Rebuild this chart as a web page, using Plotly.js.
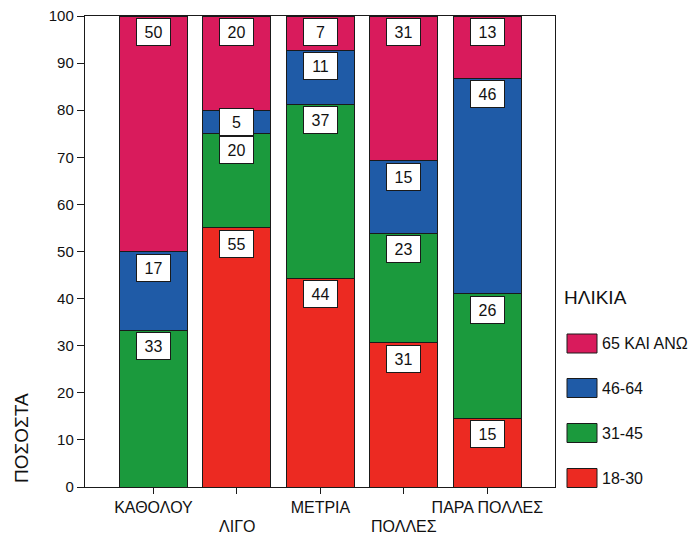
<!DOCTYPE html>
<html>
<head>
<meta charset="utf-8">
<script src="https://cdn.plot.ly/plotly-3.0.1.min.js"></script>
<style>html,body{margin:0;padding:0;background:#fff;}#chart{width:693px;height:537px;}</style>
</head>
<body>
<div id="chart"></div>
<script>
// ---- data ----
const categories = ['ΚΑΘΟΛΟΥ', 'ΛΙΓΟ', 'ΜΕΤΡΙΑ', 'ΠΟΛΛΕΣ', 'ΠΑΡΑ ΠΟΛΛΕΣ'];
const seriesNames = ['18-30', '31-45', '46-64', '65 ΚΑΙ ΑΝΩ'];
const age18_30 = [0, 55, 44.3, 30.6, 14.6];
const age31_45 = [33.3, 20, 37.0, 23.3, 26.4];
const age46_64 = [16.7, 5, 11.4, 15.4, 45.8];
const age65plus = [50, 20, 7.3, 30.7, 13.2];
const yTicks = [0, 10, 20, 30, 40, 50, 60, 70, 80, 90, 100];
const legendTitle = 'ΗΛΙΚΙΑ';
const yTitle = 'ΠΟΣΟΣΤΑ';

// ---- style ----
const colors = ['#EC2A22', '#1B9A3D', '#1F5BA7', '#D91B5C'];
const FONT = 'Arial, "Liberation Sans", sans-serif';
const INK = '#1a1a1a';
const M = {l: 85, r: 138, t: 16, b: 50};
const W = 693, H = 537;
const PW = W - M.l - M.r, PH = H - M.t - M.b;
const px = x => (x - M.l) / PW;
const py = y => (H - M.b - y) / PH;

const series = [age18_30, age31_45, age46_64, age65plus];

const traces = series.map((vals, i) => ({
  type: 'bar',
  name: seriesNames[i],
  x: categories,
  y: vals,
  width: 0.815,
  marker: {color: colors[i], line: {color: INK, width: 1}},
  showlegend: false,
  hoverinfo: 'skip'
}));

const annotations = [];
// value labels
categories.forEach((c, ci) => {
  let cum = 0;
  series.forEach((vals, si) => {
    const v = vals[ci];
    const top = cum + v;
    if (v > 0) {
      const yc = top - Math.min(3.4, v / 2);
      annotations.push({
        x: c, y: yc, xref: 'x', yref: 'y',
        text: String(Math.round(v)),
        showarrow: false,
        xanchor: 'center', yanchor: 'middle',
        bgcolor: '#ffffff', bordercolor: INK, borderwidth: 1, borderpad: 1,
        width: 31, height: 24,
        font: {family: FONT, size: 16, color: '#111'}
      });
    }
    cum = top;
  });
});

// second-row category labels (odd categories)
categories.forEach((c, ci) => {
  if (ci % 2 === 1) {
    annotations.push({
      x: c, y: py(526), xref: 'x', yref: 'paper',
      text: c, showarrow: false, xanchor: 'center', yanchor: 'middle',
      font: {family: FONT, size: 16, color: '#111'}
    });
  }
});

// y axis title
annotations.push({
  x: px(21), y: py(438), xref: 'paper', yref: 'paper',
  text: yTitle, textangle: -90, showarrow: false,
  xanchor: 'center', yanchor: 'middle',
  font: {family: FONT, size: 19, color: '#111'}
});

// custom legend
annotations.push({
  x: px(562), y: py(297), xref: 'paper', yref: 'paper',
  text: legendTitle, showarrow: false, xanchor: 'left', yanchor: 'middle',
  font: {family: FONT, size: 19, color: '#111'}
});
const shapes = [];
const legendCenters = [343.5, 388, 433, 478];
[3, 2, 1, 0].forEach((si, k) => {
  const yc = legendCenters[k];
  shapes.push({
    type: 'rect', xref: 'paper', yref: 'paper',
    x0: px(567), x1: px(597), y0: py(yc - 9.5), y1: py(yc + 9.5),
    fillcolor: colors[si], line: {color: INK, width: 1}
  });
  annotations.push({
    x: px(600), y: py(yc), xref: 'paper', yref: 'paper',
    text: seriesNames[si], showarrow: false, xanchor: 'left', yanchor: 'middle',
    font: {family: FONT, size: 16, color: '#111'}
  });
});

const layout = {
  width: W, height: H,
  margin: M,
  paper_bgcolor: '#fff', plot_bgcolor: '#fff',
  barmode: 'stack',
  showlegend: false,
  font: {family: FONT, color: '#111'},
  xaxis: {
    type: 'category',
    range: [-0.82, 4.81],
    tickvals: categories,
    ticktext: categories.map((c, i) => i % 2 === 0 ? c : ''),
    ticks: 'outside', ticklen: 6, tickcolor: INK, tickwidth: 1,
    showline: true, linecolor: INK, linewidth: 1.2, mirror: true,
    showgrid: false, zeroline: false,
    tickfont: {family: FONT, size: 16, color: '#111'}
  },
  yaxis: {
    range: [0, 100],
    tickvals: yTicks,
    ticks: 'outside', ticklen: 7, tickcolor: INK, tickwidth: 1,
    showline: true, linecolor: INK, linewidth: 1.2, mirror: true,
    showgrid: false, zeroline: false,
    tickfont: {family: FONT, size: 15, color: '#111'}
  },
  annotations: annotations,
  shapes: shapes
};

Plotly.newPlot('chart', traces, layout, {staticPlot: true, displayModeBar: false});
</script>
</body>
</html>
